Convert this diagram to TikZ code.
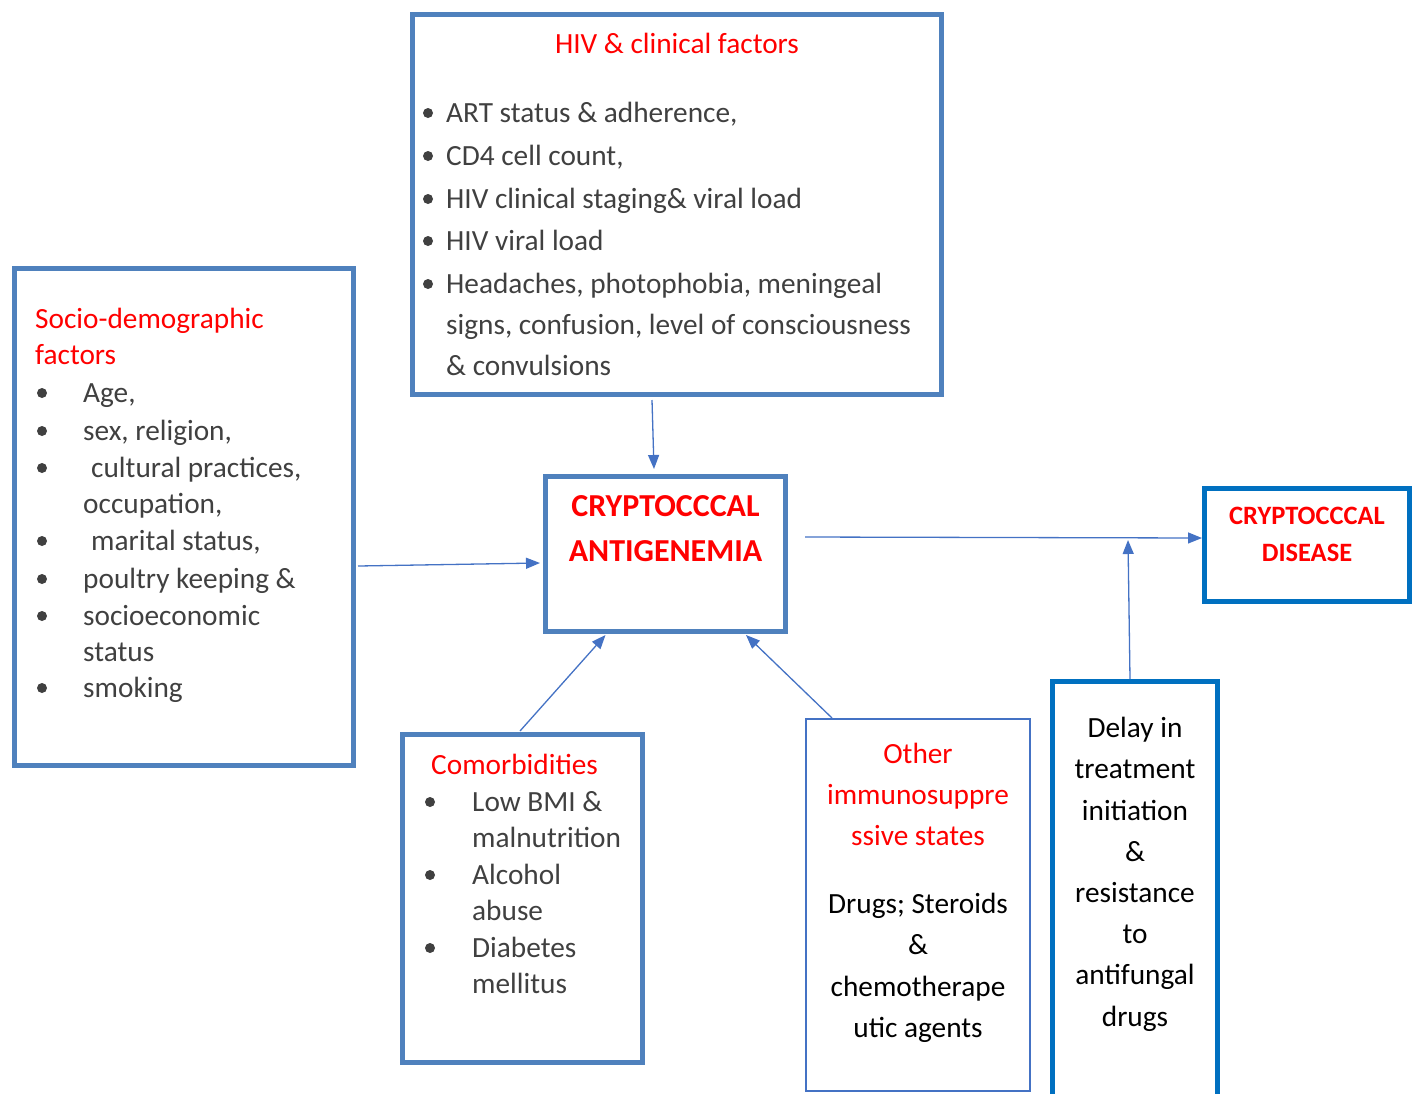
\documentclass[tikz,border=0pt]{standalone}
\usepackage{fontspec}
\setmainfont{Carlito}
\usetikzlibrary{arrows.meta}
\definecolor{boxblue}{HTML}{4F81BD}
\definecolor{darkblue}{HTML}{0070C0}
\definecolor{arrblue}{HTML}{4472C4}
\definecolor{txtgray}{HTML}{404040}
\definecolor{hred}{HTML}{FF0000}
\begin{document}
\begin{tikzpicture}[x=1pt,y=-1pt,
  box/.style={draw=boxblue, line width=5pt, inner sep=0pt, fill=none},
  dbox/.style={box, draw=darkblue},
  tbox/.style={box, draw=arrblue, line width=2pt},
  t/.style={inner sep=0pt, anchor=base west, font=\fontsize{29.3}{35}\selectfont, text=txtgray},
  tc/.style={t, anchor=base},
  tr/.style={t, text=hred},
  trc/.style={tc, text=hred},
  tk/.style={tc, text=black},
  bt/.style={inner sep=0pt, anchor=base, text=hred, font=\fontsize{32}{38}\selectfont\bfseries},
  bul/.style={circle, fill=txtgray, inner sep=0pt, minimum size=10pt},
  arr/.style={draw=arrblue, line width=1.3pt, -{Triangle[length=14pt,width=11pt]}}
]
\useasboundingbox (0,0) rectangle (1415,1093);

% boxes
\node[box, minimum width=529pt, minimum height=380pt] (hiv) at (677,204.5) {};
\node[box, minimum width=339pt, minimum height=497pt] (soc) at (184,517) {};
\node[box, minimum width=240pt, minimum height=155pt] (ant) at (665.5,554) {};
\node[dbox, minimum width=205pt, minimum height=113pt] (dis) at (1307,545) {};
\node[box, minimum width=240pt, minimum height=328pt] (com) at (522.5,898.5) {};
\node[tbox, minimum width=224pt, minimum height=372pt] (oth) at (918,905) {};
\node[dbox, minimum width=165pt, minimum height=430pt] (del) at (1135,896.5) {};

% HIV & clinical factors
\node[trc] (hivT) at (677,53) {HIV \& clinical factors};
\node[bul] (hb1) at (428,113) {};
\node[bul] (hb2) at (428,156) {};
\node[bul] (hb3) at (428,199) {};
\node[bul] (hb4) at (428,241) {};
\node[bul] (hb5) at (428,284) {};
\node[t] (h1) at (446,122) {ART status \& adherence,};
\node[t] (h2) at (446,165) {CD4 cell count,};
\node[t] (h3) at (446,208) {HIV clinical staging\& viral load};
\node[t] (h4) at (446,250) {HIV viral load};
\node[t] (h5) at (446,293) {Headaches, photophobia, meningeal};
\node[t] (h6) at (446,334) {signs, confusion, level of consciousness};
\node[t] (h7) at (446,375) {\& convulsions};

% Socio-demographic
\node[tr] (socT1) at (35,328) {Socio-demographic};
\node[tr] (socT2) at (35,364) {factors};
\node[bul] (sb1) at (42,393) {};
\node[bul] (sb2) at (42,431) {};
\node[bul] (sb3) at (42,468) {};
\node[bul] (sb4) at (42,541) {};
\node[bul] (sb5) at (42,579) {};
\node[bul] (sb6) at (42,616) {};
\node[bul] (sb7) at (42,688) {};
\node[t] (s1) at (83,402) {Age,};
\node[t] (s2) at (83,440) {sex, religion,};
\node[t] (s3) at (91,477) {cultural practices,};
\node[t] (s4) at (83,513) {occupation,};
\node[t] (s5) at (91,550) {marital status,};
\node[t] (s6) at (83,588) {poultry keeping \&};
\node[t] (s7) at (83,625) {socioeconomic};
\node[t] (s8) at (83,661) {status};
\node[t] (s9) at (83,697) {smoking};

% Antigenemia
\node[bt] (a1) at (665.5,516) {CRYPTOCCCAL};
\node[bt] (a2) at (665.5,561) {ANTIGENEMIA};

% Disease
\node[bt, font=\fontsize{26.5}{32}\selectfont\bfseries] (d1) at (1307,524) {CRYPTOCCCAL};
\node[bt, font=\fontsize{26.5}{32}\selectfont\bfseries] (d2) at (1307,561) {DISEASE};

% Comorbidities
\node[tr] (comT) at (431,774) {Comorbidities};
\node[bul] (cb1) at (430,802) {};
\node[bul] (cb2) at (430,875) {};
\node[bul] (cb3) at (430,948) {};
\node[t] (c1) at (472,811) {Low BMI \&};
\node[t] (c2) at (472,847) {malnutrition};
\node[t] (c3) at (472,884) {Alcohol};
\node[t] (c4) at (472,920) {abuse};
\node[t] (c5) at (472,957) {Diabetes};
\node[t] (c6) at (472,993) {mellitus};

% Other immunosuppressive states
\node[trc] (o1) at (918,763) {Other};
\node[trc] (o2) at (918,804) {immunosuppre};
\node[trc] (o3) at (918,845) {ssive states};
\node[tk] (o4) at (918,913) {Drugs; Steroids};
\node[tk] (o5) at (918,954) {\&};
\node[tk] (o6) at (918,996) {chemotherape};
\node[tk] (o7) at (918,1037) {utic agents};

% Delay
\node[tk] (e1) at (1135,737) {Delay in};
\node[tk] (e2) at (1135,778) {treatment};
\node[tk] (e3) at (1135,820) {initiation};
\node[tk] (e4) at (1135,861) {\&};
\node[tk] (e5) at (1135,902) {resistance};
\node[tk] (e6) at (1135,943) {to};
\node[tk] (e7) at (1135,984) {antifungal};
\node[tk] (e8) at (1135,1026) {drugs};

% connectors
\coordinate (dj) at (1128,540);
\draw[arr] ([xshift=-25pt,yshift=-3pt]hiv.south) -- ([xshift=-11.5pt,yshift=5pt]ant.north);
\draw[arr] ([xshift=2pt,yshift=-49pt]soc.east) -- ([xshift=-3pt,yshift=-9pt]ant.west);
\draw[arr] ([xshift=-2.5pt,yshift=1pt]com.north) -- ([xshift=-60pt,yshift=-1pt]ant.south);
\draw[arr] ([xshift=-86pt]oth.north) -- ([xshift=80.5pt,yshift=-1pt]ant.south);
\draw[arr] ([xshift=17pt,yshift=17pt]ant.east) -- ([yshift=7pt]dis.west);
\draw[arr] ([xshift=-5pt]del.north) -- (dj);
\end{tikzpicture}
\end{document}
